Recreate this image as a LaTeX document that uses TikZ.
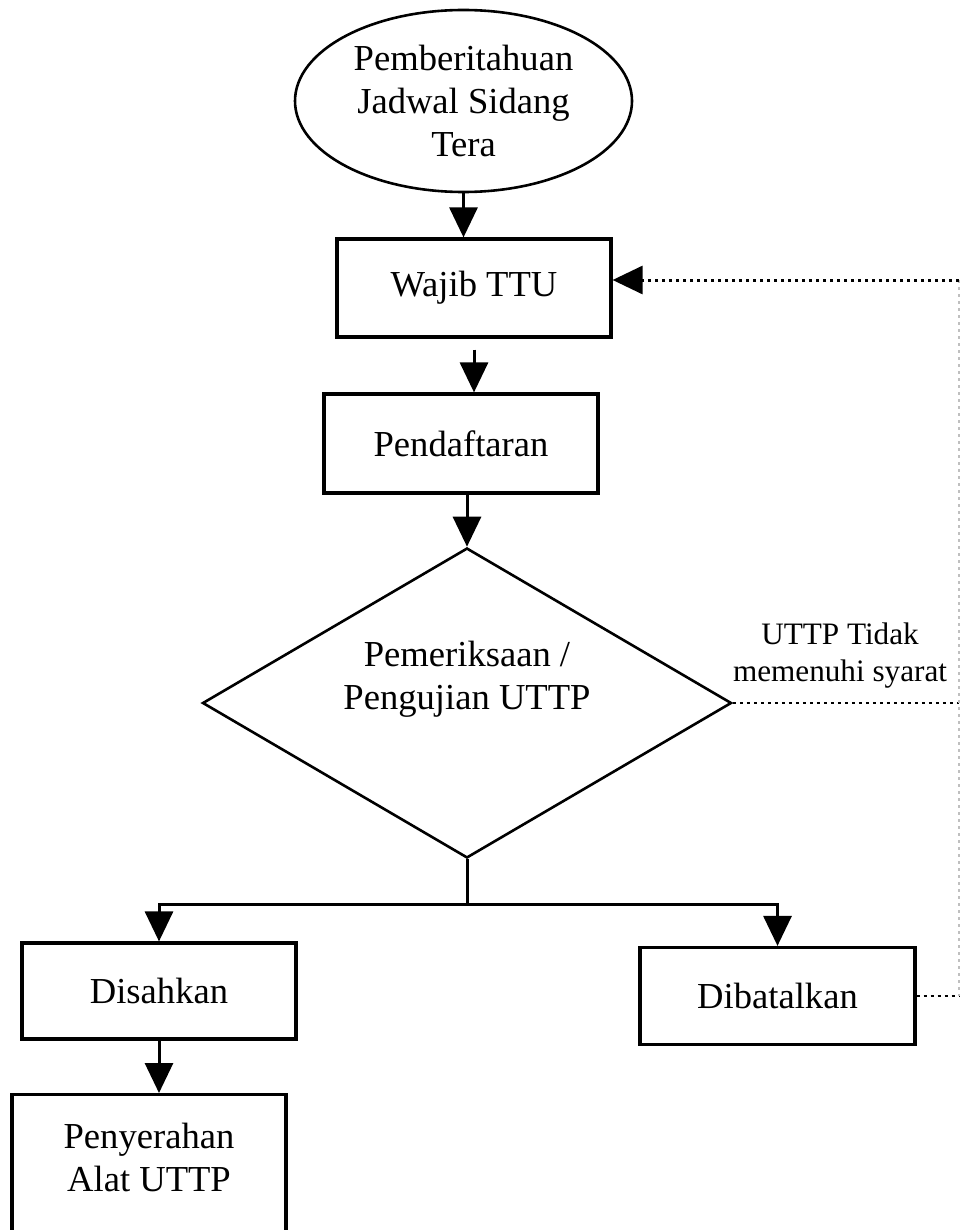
\documentclass[tikz,border=0pt]{standalone}
\usepackage{fontspec}
\setmainfont{Liberation Serif}
\usetikzlibrary{shapes.geometric,arrows.meta}

\begin{document}
\begin{tikzpicture}[x=0.5pt,y=-0.5pt,
    txt/.style={align=center,inner sep=0pt,font=\fontsize{18.3}{21.5}\selectfont},
    box/.style={txt,draw,line width=1.6pt},
    arr/.style={line width=1.5pt,-{Triangle[length=15pt,width=14pt]}},
    dotline/.style={line width=1.2pt,dash pattern=on 1.6pt off 1.9pt}]
\useasboundingbox (0,0) rectangle (961,1230);
% flow nodes
\node[box,ellipse,line width=1.3pt,minimum width=168.5pt,minimum height=91pt](start)at(463.5,101){Pemberitahuan\\Jadwal Sidang\\Tera};
\node[box,minimum width=137pt,minimum height=49pt](wajib)at(474,288){Wajib TTU};
\node[box,minimum width=137pt,minimum height=49.5pt](daftar)at(461,443.5){Pendaftaran};
\node[box,diamond,line width=1.3pt,minimum width=264.5pt,minimum height=155pt](check)at(467,703){};
\node[txt](checktext)at(467,679){Pemeriksaan /\\Pengujian UTTP};
\node[box,minimum width=137pt,minimum height=48pt](sah)at(159,991){Disahkan};
\node[box,minimum width=137.5pt,minimum height=48.5pt](batal)at(777.5,996){Dibatalkan};
\node[box,minimum width=137pt,minimum height=90pt,anchor=north](serah)at(149,1093){};
\node[txt](serahtext)at(149,1157){Penyerahan\\Alat UTTP};
\node[txt,font=\fontsize{15.6}{18.5}\selectfont](syarat)at(840,656){UTTP Tidak\\memenuhi syarat};
\coordinate (fork) at (467,904);
\coordinate (rtop) at (959,280);
\coordinate (rmid) at (959,703);
\coordinate (rbot) at (959,996);
% arrows
\draw[arr] (start.south) -- (start.south |- wajib.north);
\draw[arr,shorten <=5.5pt] (wajib.south) -- (wajib.south |- daftar.north);
\draw[arr] (check.north |- daftar.south) -- (check.north);
\draw[line width=1.5pt] (check.south) -- (check.south |- fork);
\draw[arr] (fork) -| (sah.north);
\draw[arr] (fork) -| (batal.north);
\draw[arr] (sah.south) -- (sah.south |- serah.north);
% back loop
\draw[dotline] (batal.east) -- (batal.east -| rbot);
\draw[dotline] (check.east) -- (check.east -| rmid);
\draw[dotline,black!25] (rtop) -- (rbot);
\draw[dotline,arr] (rtop) -- (rtop -| wajib.east);
\end{tikzpicture}
\end{document}
